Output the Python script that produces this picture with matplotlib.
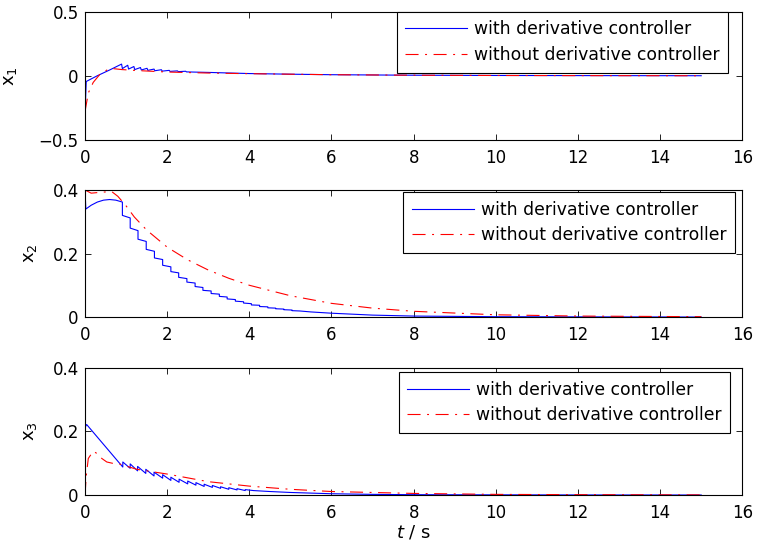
import matplotlib
matplotlib.use('Agg')
import matplotlib.pyplot as plt

plt.rcParams['font.family'] = ['DejaVu Sans']
plt.rcParams['lines.scale_dashes'] = False

labels = ['with derivative controller', 'without derivative controller']

# x1
t1_with = [0, 0.03, 0.3, 0.6, 0.89, 0.91, 1.04, 1.06, 1.19, 1.21, 1.35, 1.37, 1.51, 1.53,
           1.68, 1.70, 1.86, 1.88, 2.05, 2.07, 2.25, 2.27, 2.45, 2.47, 3, 4, 5, 6, 8, 10, 12, 15]
x1_with = [-0.30, -0.045, 0.0, 0.045, 0.091, 0.056, 0.082, 0.052, 0.072, 0.048, 0.064, 0.045, 0.058, 0.042,
           0.052, 0.039, 0.047, 0.036, 0.042, 0.034, 0.038, 0.032, 0.035, 0.030, 0.026, 0.017, 0.012, 0.008, 0.004, 0.002, 0.001, 0.0]
t1_without = [0, 0.08, 0.2, 0.36, 0.57, 0.7, 0.9, 1.3, 2, 3, 4, 5, 6, 8, 10, 12, 15]
x1_without = [-0.28, -0.135, -0.052, 0.01, 0.052, 0.055, 0.048, 0.04, 0.029, 0.021, 0.016, 0.012, 0.008, 0.004, 0.002, 0.001, 0.0]

# x2
t2_pre = [0, 0.02, 0.15, 0.3, 0.45, 0.6, 0.75, 0.91]
x2_pre = [0.40, 0.34, 0.352, 0.362, 0.368, 0.37, 0.368, 0.362]
t2_steps = [0.91, 1.10, 1.29, 1.49, 1.69, 1.89, 2.09, 2.28, 2.48, 2.68, 2.87, 3.07, 3.27, 3.46,
            3.66, 3.86, 4.05, 4.25, 4.45, 4.64, 4.84, 5.04, 5.23]
x2_step_top = [0.32, 0.28, 0.245, 0.213, 0.186, 0.163, 0.143, 0.125, 0.11, 0.096, 0.084, 0.074, 0.065, 0.057,
               0.05, 0.044, 0.038, 0.033, 0.029, 0.026, 0.023, 0.02]
x2_step_end = [0.312, 0.272, 0.238, 0.207, 0.181, 0.158, 0.139, 0.121, 0.107, 0.093, 0.082, 0.072, 0.063, 0.055,
               0.048, 0.042, 0.037, 0.032, 0.028, 0.025, 0.022, 0.019]
t2_tail = [5.5, 6, 7, 8, 10, 12, 15]
x2_tail = [0.016, 0.012, 0.006, 0.003, 0.001, 0.0005, 0.0]
t2_without = [0, 0.15, 0.4, 0.65, 0.8, 1.0, 1.2, 1.5, 2.0, 2.5, 3.0, 3.5, 4.0, 5.0, 6.0, 7.0, 8.0, 10, 12, 15]
x2_without = [0.40, 0.39, 0.393, 0.395, 0.38, 0.35, 0.315, 0.274, 0.22, 0.18, 0.148, 0.122, 0.1, 0.067,
              0.043, 0.028, 0.018, 0.007, 0.003, 0.001]

# x3
t3_pre = [0, 0.01, 0.04]
x3_pre = [0, 0.215, 0.222]
t3_jumps = [0.92, 1.10, 1.28, 1.48, 1.68, 1.89, 2.09, 2.29, 2.5, 2.7, 2.9, 3.1, 3.3, 3.5, 3.7, 3.9]
x3_trough = [0.088, 0.084, 0.076, 0.068, 0.06, 0.053, 0.046, 0.04, 0.035, 0.031, 0.027, 0.024, 0.021, 0.018, 0.016, 0.014]
x3_peak = [0.104, 0.098, 0.09, 0.081, 0.072, 0.064, 0.056, 0.05, 0.044, 0.039, 0.034, 0.03, 0.026, 0.023, 0.02, 0.017]
t3_tail = [4.1, 4.5, 5, 6, 7, 8, 10, 12, 15]
x3_tail = [0.014, 0.011, 0.008, 0.004, 0.002, 0.001, 0.0005, 0.0002, 0.0]
t3_without = [0, 0.03, 0.08, 0.2, 0.3, 0.41, 0.53, 0.7, 0.85, 1.26, 2, 3, 4, 5, 6, 8, 10, 12, 15]
x3_without = [0, 0.06, 0.115, 0.138, 0.13, 0.115, 0.104, 0.099, 0.097, 0.081, 0.066, 0.042, 0.028, 0.018,
              0.011, 0.005, 0.002, 0.001, 0.0003]

# build the stepped / sawtooth curves from the read points
t2_with = list(t2_pre)
x2_with = list(x2_pre)
for k in range(len(x2_step_top)):
    t2_with += [t2_steps[k], t2_steps[k + 1]]
    x2_with += [x2_step_top[k], x2_step_end[k]]
t2_with += t2_tail
x2_with += x2_tail

t3_with = list(t3_pre)
x3_with = list(x3_pre)
for k in range(len(t3_jumps)):
    t3_with += [t3_jumps[k], t3_jumps[k]]
    x3_with += [x3_trough[k], x3_peak[k]]
t3_with += t3_tail
x3_with += x3_tail

series = [(t1_with, x1_with, t1_without, x1_without),
          (t2_with, x2_with, t2_without, x2_without),
          (t3_with, x3_with, t3_without, x3_without)]
ylims = [(-0.5, 0.5), (0, 0.4), (0, 0.4)]
yticks = [[-0.5, 0, 0.5], [0, 0.2, 0.4], [0, 0.2, 0.4]]
yticklabels = [['\u22120.5', '0', '0.5'], ['0', '0.2', '0.4'], ['0', '0.2', '0.4']]
ylabels = [r'$\mathregular{x_1}$', r'$\mathregular{x_2}$', r'$\mathregular{x_3}$']
xticks = [0, 2, 4, 6, 8, 10, 12, 14, 16]

positions = [[0.112, 0.745, 0.866, 0.2336],
             [0.112, 0.4215, 0.866, 0.2318],
             [0.112, 0.0967, 0.866, 0.2318]]
label_x = [-0.1, -0.07, -0.07]
legend_anchor = [(0.979, 1.0), (0.989, 0.984), (0.982, 0.969)]

fig = plt.figure(figsize=(7.59, 5.48), dpi=100)
for i in range(3):
    ax = fig.add_axes(positions[i])
    tw, xw, to, xo = series[i]
    ax.plot(tw, xw, color='#0000ff', lw=0.8, label=labels[0])
    ax.plot(to, xo, color='#ff0000', lw=0.8, dashes=(9.4, 4.7, 1.4, 4.7), label=labels[1])
    ax.set_xlim(0, 16)
    ax.set_ylim(*ylims[i])
    ax.set_xticks(xticks)
    ax.set_xticklabels([str(v) for v in xticks])
    ax.set_yticks(yticks[i])
    ax.set_yticklabels(yticklabels[i])
    ax.tick_params(direction='in', top=True, right=True, length=4, width=0.6, labelsize=12)
    ax.tick_params(axis='x', pad=6.5)
    ax.tick_params(axis='y', pad=4.5)
    for s in ax.spines.values():
        s.set_linewidth(0.8)
    ax.set_ylabel(ylabels[i], fontsize=13)
    ax.yaxis.set_label_coords(label_x[i], 0.5)
    leg = ax.legend(loc='upper right', bbox_to_anchor=legend_anchor[i], borderaxespad=0,
                    fontsize=12.4, fancybox=False, framealpha=1, edgecolor='black',
                    handlelength=3.6, handletextpad=0.4, labelspacing=0.45, borderpad=0.5)
    leg.get_frame().set_linewidth(0.8)
    if i == 2:
        ax.set_xlabel(r'$\mathit{t}$ / s', fontsize=13, labelpad=1)

fig.savefig('out.png', dpi=100)
